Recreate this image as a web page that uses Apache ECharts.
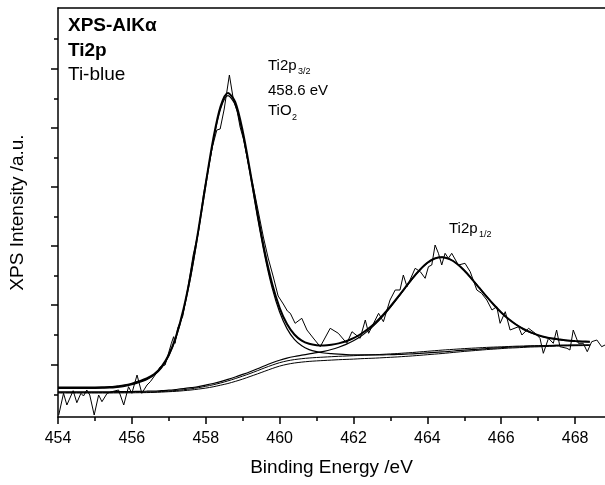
<!DOCTYPE html>
<html><head><meta charset="utf-8">
<script src="https://cdn.jsdelivr.net/npm/echarts@6/dist/echarts.min.js"></script>
<style>html,body{margin:0;padding:0;background:#fff}#c{width:605px;height:485px}</style>
</head><body><div id="c"></div>
<script>
// Binding energy grid of the fitted curves (eV)
const fitEnergy = [454.0,454.2,454.4,454.6,454.8,455.0,455.2,455.4,455.6,455.8,456.0,456.2,456.4,456.6,456.8,457.0,457.2,457.4,457.6,457.8,458.0,458.2,458.4,458.6,458.8,459.0,459.2,459.4,459.6,459.8,460.0,460.2,460.4,460.6,460.8,461.0,461.2,461.4,461.6,461.8,462.0,462.2,462.4,462.6,462.8,463.0,463.2,463.4,463.6,463.8,464.0,464.2,464.4,464.6,464.8,465.0,465.2,465.4,465.6,465.8,466.0,466.2,466.4,466.6,466.8,467.0,467.2,467.4,467.6,467.8,468.0,468.2,468.4];
// Shirley backgrounds (two nearly coincident lines)
const background1 = [246,246,246,246,246,246,246,246,247,247,248,249,250,252,255,259,265,273,282,293,307,322,340,361,384,409,435,463,492,519,543,561,574,583,590,595,599,603,607,610,613,617,620,623,627,631,635,640,645,651,657,663,669,674,679,684,688,692,696,699,702,705,708,710,712,714,715,717,718,719,719,720,721];
const background2 = [240,240,240,240,240,240,240,240,241,241,242,243,244,246,249,253,257,263,270,279,289,302,318,335,356,379,405,431,458,485,509,527,540,549,556,561,565,569,573,576,579,583,586,589,593,597,601,606,611,617,623,629,635,642,649,656,662,668,674,679,684,689,692,696,700,702,705,707,710,711,713,714,715];
// Ti2p3/2 component (on background)
const component1 = [287,287,287,287,287,287,288,290,297,307,324,346,374,416,489,610,798,1067,1421,1850,2313,2751,3080,3213,3118,2828,2429,2002,1609,1289,1050,884,777,712,674,653,640,633,628,624,622,622,621,621,622,623,625,628,632,636,641,646,651,656,663,669,674,679,685,689,693,698,701,704,708,709,712,714,717,717,719,720,720];
// Ti2p1/2 component (on background)
const component2 = [251,251,251,251,252,252,252,252,254,254,255,257,258,260,264,268,275,283,293,304,319,335,354,376,400,426,453,482,513,542,568,589,605,618,631,643,657,675,698,726,762,808,864,931,1009,1097,1191,1289,1385,1471,1541,1585,1599,1580,1534,1466,1383,1295,1206,1122,1045,979,924,879,844,817,796,782,771,763,757,753,750];
// Fit envelope
const envelope = [295,295,295,295,296,296,297,299,307,317,334,357,385,427,501,622,812,1082,1438,1868,2334,2774,3105,3241,3148,2860,2462,2037,1647,1329,1092,929,825,764,732,718,715,722,736,757,788,830,882,946,1021,1106,1198,1294,1389,1473,1542,1585,1598,1578,1533,1465,1382,1294,1206,1122,1045,980,925,880,846,818,798,784,774,765,760,756,752];
// Measured spectrum
const rawEnergy = [454.02,454.15,454.24,454.41,454.51,454.62,454.69,454.78,454.86,454.98,455.10,455.19,455.33,455.46,455.64,455.78,455.91,456.00,456.14,456.27,456.41,456.50,456.63,456.77,456.90,457.07,457.13,457.17,457.24,457.38,457.52,457.66,457.80,457.94,458.06,458.18,458.30,458.39,458.50,458.64,458.75,458.85,458.93,459.02,459.16,459.29,459.42,459.56,459.69,459.83,459.96,460.10,460.21,460.29,460.42,460.60,460.74,460.91,461.10,461.37,461.59,461.82,461.96,462.18,462.32,462.41,462.68,462.81,462.99,463.13,463.26,463.35,463.45,463.67,463.81,463.94,464.03,464.12,464.21,464.30,464.39,464.48,464.57,464.66,464.84,465.02,465.16,465.34,465.47,465.61,465.75,465.88,465.97,466.11,466.24,466.47,466.56,466.74,466.92,467.05,467.14,467.28,467.41,467.50,467.59,467.78,467.86,467.95,468.09,468.22,468.33,468.45,468.59,468.72,468.81];
const rawIntensity = [20,237,120,263,143,237,210,270,220,20,220,153,237,253,270,120,303,237,420,237,320,353,420,503,520,737,803,737,887,1010,1300,1620,1850,2230,2470,2700,2870,2880,3080,3420,3170,3060,2900,2780,2520,2300,2060,1800,1590,1400,1210,1130,1060,1037,937,987,870,790,703,887,837,737,853,787,970,837,1037,953,1170,1270,1270,1420,1303,1487,1453,1387,1503,1520,1720,1637,1520,1637,1587,1637,1520,1537,1453,1270,1237,1170,1070,1103,937,1053,870,903,820,887,837,787,637,787,737,870,703,687,670,870,737,737,653,753,770,703,720];
// Axis ticks
const xTickLabels = [454,456,458,460,462,464,466,468];
const xMinorTicks = [455,457,459,461,463,465,467];
const yMajorTicks = [527,1119,1711,2303,2895,3487];
const yMinorTicks = [227,819,1411,2003,2595,3187,3779];

const FONT = '"Liberation Sans", Arial, Helvetica, sans-serif';
const pairs = (xs, ys) => xs.map((x, i) => [x, ys[i]]);
const X_MIN = 454, X_MAX = 468.81, Y_MIN = 0, Y_MAX = 4090;
const black = '#000';
const lineSeries = (name, xs, ys, width, smooth) => ({
  name, type: 'line', data: pairs(xs, ys), showSymbol: false, symbol: 'none',
  smooth: smooth, lineStyle: { color: black, width }, silent: true, z: 3
});

const chart = echarts.init(document.getElementById('c'), null, { renderer: 'canvas' });
chart.setOption({
  animation: false,
  backgroundColor: '#fff',
  grid: { left: 58, right: 0, top: 8, bottom: 68 },
  xAxis: [
    { type: 'value', min: X_MIN, max: X_MAX, position: 'bottom',
      axisLine: { show: true, onZero: false, lineStyle: { color: black, width: 1.5 } },
      axisTick: { show: true, customValues: xTickLabels, length: 7, lineStyle: { color: black, width: 1.5 } },
      axisLabel: { show: true, customValues: xTickLabels, fontSize: 16, color: black, fontFamily: FONT, margin: 14 },
      splitLine: { show: false },
      name: 'Binding Energy /eV', nameLocation: 'middle', nameGap: 41,
      nameTextStyle: { fontSize: 19, fontFamily: FONT, color: black } },
    { type: 'value', min: X_MIN, max: X_MAX, position: 'top',
      axisLine: { show: true, onZero: false, lineStyle: { color: black, width: 1.5 } },
      axisTick: { show: false }, axisLabel: { show: false }, splitLine: { show: false } },
    { type: 'value', min: X_MIN, max: X_MAX, position: 'bottom',
      axisLine: { show: false, onZero: false },
      axisTick: { show: true, customValues: xMinorTicks, length: 4, lineStyle: { color: black, width: 1.5 } },
      axisLabel: { show: false }, splitLine: { show: false } }
  ],
  yAxis: [
    { type: 'value', min: Y_MIN, max: Y_MAX, position: 'left',
      axisLine: { show: true, onZero: false, lineStyle: { color: black, width: 1.5 } },
      axisTick: { show: true, customValues: yMajorTicks, length: 7, lineStyle: { color: black, width: 1.5 } },
      axisLabel: { show: false }, splitLine: { show: false },
      name: 'XPS Intensity /a.u.', nameLocation: 'middle', nameGap: 31,
      nameTextStyle: { fontSize: 19, fontFamily: FONT, color: black } },
    { type: 'value', min: Y_MIN, max: Y_MAX, position: 'left',
      axisLine: { show: false, onZero: false },
      axisTick: { show: true, customValues: yMinorTicks, length: 4, lineStyle: { color: black, width: 1.5 } },
      axisLabel: { show: false }, splitLine: { show: false } }
  ],
  series: [
    lineSeries('Background 1', fitEnergy, background1, 1, 0.3),
    lineSeries('Background 2', fitEnergy, background2, 1, 0.3),
    lineSeries('Ti2p3/2', fitEnergy, component1, 1.2, 0.3),
    lineSeries('Ti2p1/2', fitEnergy, component2, 1.2, 0.3),
    lineSeries('Envelope', fitEnergy, envelope, 2, 0.3),
    lineSeries('Measured', rawEnergy, rawIntensity, 1, false)
  ],
  graphic: [
    { type: 'text', x: 68, y: 26, style: { text: 'XPS-AlK\u03b1', fontSize: 19, fontWeight: 'bold', fontFamily: FONT, fill: black, verticalAlign: 'middle' } },
    { type: 'text', x: 68, y: 51, style: { text: 'Ti2p', fontSize: 19, fontWeight: 'bold', fontFamily: FONT, fill: black, verticalAlign: 'middle' } },
    { type: 'text', x: 68, y: 75, style: { text: 'Ti-blue', fontSize: 19, fontFamily: FONT, fill: black, verticalAlign: 'middle' } },
    { type: 'text', x: 268, y: 66, style: { text: 'Ti2p', fontSize: 15, fontFamily: FONT, fill: black, verticalAlign: 'middle' } },
    { type: 'text', x: 298, y: 72, style: { text: '3/2', fontSize: 9, fontFamily: FONT, fill: black, verticalAlign: 'middle' } },
    { type: 'text', x: 268, y: 91, style: { text: '458.6 eV', fontSize: 15, fontFamily: FONT, fill: black, verticalAlign: 'middle' } },
    { type: 'text', x: 268, y: 111, style: { text: 'TiO', fontSize: 15, fontFamily: FONT, fill: black, verticalAlign: 'middle' } },
    { type: 'text', x: 292, y: 118, style: { text: '2', fontSize: 9, fontFamily: FONT, fill: black, verticalAlign: 'middle' } },
    { type: 'text', x: 449, y: 229, style: { text: 'Ti2p', fontSize: 15, fontFamily: FONT, fill: black, verticalAlign: 'middle' } },
    { type: 'text', x: 479, y: 235, style: { text: '1/2', fontSize: 9, fontFamily: FONT, fill: black, verticalAlign: 'middle' } }
  ]
});
</script>
</body></html>
